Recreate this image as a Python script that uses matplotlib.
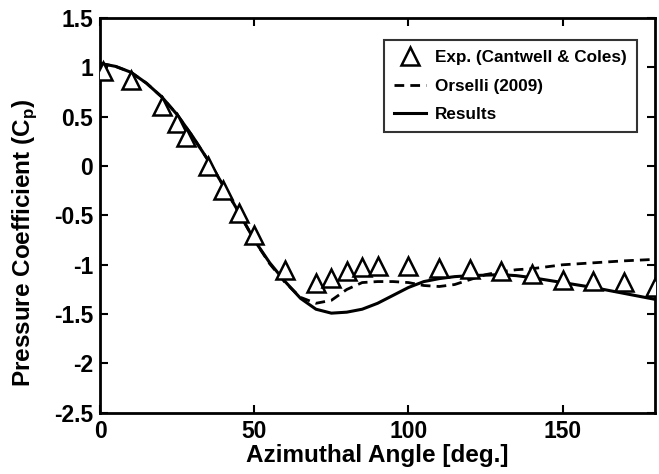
import matplotlib
matplotlib.use("Agg")
import matplotlib.pyplot as plt

plt.rcParams['font.family'] = ['Liberation Sans', 'DejaVu Sans']
plt.rcParams['font.weight'] = 'bold'

# Experimental data (Cantwell & Coles)
exp_angle = [1, 10, 20, 25, 28, 35, 40, 45, 50, 60, 70, 75, 80, 85, 90,
             100, 110, 120, 130, 140, 150, 160, 170, 180]
exp_cp = [0.96, 0.87, 0.61, 0.44, 0.29, 0.00, -0.24, -0.48, -0.70, -1.05,
          -1.18, -1.13, -1.06, -1.02, -1.01, -1.01, -1.03, -1.04, -1.06,
          -1.09, -1.15, -1.16, -1.17, -1.22]

# Orselli (2009)
ors_angle = [0, 5, 10, 15, 20, 25, 30, 35, 40, 45, 50, 55, 60, 65, 70, 75,
             80, 85, 90, 95, 100, 105, 110, 115, 120, 125, 130, 135, 140,
             150, 160, 170, 180]
ors_cp = [1.04, 1.01, 0.95, 0.84, 0.70, 0.52, 0.30, 0.06, -0.20, -0.47,
          -0.75, -0.99, -1.18, -1.33, -1.39, -1.36, -1.25, -1.18, -1.17,
          -1.17, -1.18, -1.21, -1.22, -1.20, -1.15, -1.10, -1.07, -1.05,
          -1.04, -1.00, -0.98, -0.96, -0.945]

# Results
res_angle = [0, 5, 10, 15, 20, 25, 30, 35, 40, 45, 50, 55, 60, 65, 70, 75,
             80, 85, 90, 95, 100, 105, 110, 115, 120, 130, 135, 140, 150,
             160, 170, 180]
res_cp = [1.04, 1.01, 0.95, 0.84, 0.70, 0.52, 0.30, 0.06, -0.20, -0.47,
          -0.75, -0.98, -1.17, -1.34, -1.45, -1.49, -1.48, -1.45, -1.39,
          -1.31, -1.23, -1.17, -1.14, -1.12, -1.11, -1.10, -1.11, -1.13,
          -1.18, -1.23, -1.29, -1.35]

xticks = [0, 50, 100, 150]
yticks = [1.5, 1, 0.5, 0, -0.5, -1, -1.5, -2, -2.5]
ytick_labels = ['1.5', '1', '0.5', '0', '-0.5', '-1', '-1.5', '-2', '-2.5']

fig = plt.figure(figsize=(6.59, 4.74), dpi=100)
ax = fig.add_axes([0.152, 0.129, 0.842, 0.833])

ax.plot(exp_angle, exp_cp, linestyle='none', marker='^', ms=13,
        mfc='white', mec='black', mew=1.8, label='Exp. (Cantwell & Coles)',
        zorder=3, clip_on=True)
ax.plot(ors_angle, ors_cp, 'k--', lw=2.0, dashes=(3.5, 2.2), label='Orselli (2009)', zorder=2)
ax.plot(res_angle, res_cp, 'k-', lw=2.2, label='Results', zorder=2)

ax.set_xlim(0, 180)
ax.set_ylim(-2.5, 1.5)
ax.set_xticks(xticks)
ax.set_yticks(yticks)
ax.set_yticklabels(ytick_labels)
ax.tick_params(direction='in', length=6, width=1.5, top=True, right=True,
               labelsize=16.5)
ax.tick_params(axis='y', pad=5)
ax.tick_params(axis='x', pad=5)
for lab in ax.get_xticklabels() + ax.get_yticklabels():
    lab.set_fontweight('bold')
for sp in ax.spines.values():
    sp.set_linewidth(2)

ax.set_xlabel('Azimuthal Angle [deg.]', fontsize=17.5, fontweight='bold', labelpad=1)
ax.set_ylabel('Pressure Coefficient (C$_\\mathregular{p}$)', fontsize=17.5,
              fontweight='bold')
ax.yaxis.set_label_coords(-0.111, 0.43)

leg = ax.legend(loc='upper right', bbox_to_anchor=(0.9676, 0.944), fontsize=12.3,
                frameon=True, fancybox=False, edgecolor='black',
                handlelength=1.85, handletextpad=0.55, borderpad=0.6,
                labelspacing=0.78, borderaxespad=0.0)
leg.get_frame().set_linewidth(1.5)
for t in leg.get_texts():
    t.set_fontweight('bold')

fig.savefig('out.png', dpi=100)
